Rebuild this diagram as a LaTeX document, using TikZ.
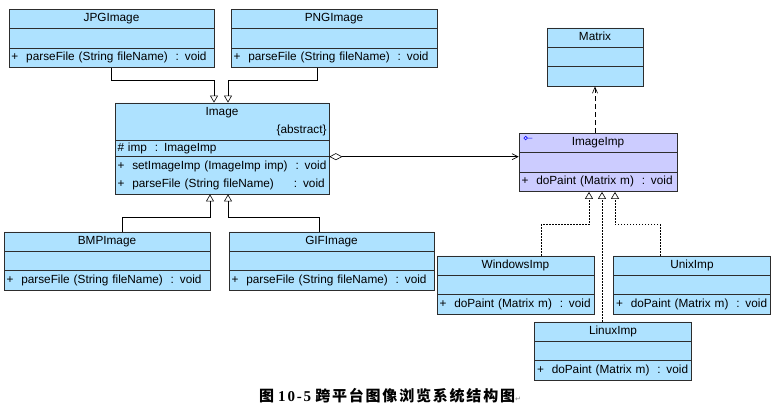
\documentclass[tikz,border=0pt]{standalone}
\usepackage{fontspec}
\setmainfont{Liberation Sans}
\newfontfamily\cjk{Noto Sans CJK SC}[LetterSpace=12]
\newfontfamily\capnum{Liberation Serif}[LetterSpace=12]
\newfontfamily\symfont{DejaVu Sans}
\usepackage{tikz}
\usetikzlibrary{positioning, shapes.multipart, arrows.meta}
\definecolor{classblue}{RGB}{174,226,255}
\definecolor{implilac}{RGB}{204,204,255}
\definecolor{umlline}{RGB}{45,45,45}
\tikzset{node distance=110pt, % Distance between node centres. Change if necessary.
umlclass/.style={ % Sets the properties for each class box
rectangle split, rectangle split parts=3,
draw=umlline, line width=0.7pt, fill=classblue,
text width=#1, align=left, inner xsep=2.5pt, inner ysep=2.33pt,
font=\fontsize{11.8}{14}\selectfont},
generalize/.style={ % Solid line, hollow triangle
draw, line width=0.6pt, -{Triangle[open,length=7pt,width=8pt]}},
realize/.style={ % Dotted line, hollow triangle
generalize, dash pattern=on 1.5pt off 1.5pt},
depend/.style={ % Dashed line, open arrow
draw, line width=0.6pt, dash pattern=on 5pt off 3pt,
-{Straight Barb[length=6pt,width=5pt]}},
aggregate/.style={ % Hollow diamond at the whole
draw, line width=0.6pt,
arrows={Diamond[open,length=13pt,width=7pt]-Straight Barb[length=6pt,width=6pt]}},
impicon/.style={blue, line width=0.6pt},
figcaption/.style={font=\bfseries\fontsize{15}{18}\selectfont, inner sep=0pt}}

\begin{document}
\begin{tikzpicture}[x=1pt, y=1pt]
    \useasboundingbox (0,0) rectangle (780,415);

    \node[umlclass=209pt] (img) at (222,266.5) {\hfill Image\hfill\strut\\[4pt]\hspace*{\fill}\{abstract\}\strut
        \nodepart{two}\#~imp~~: ImageImp
        \nodepart{three}\strut +~~setImageImp (ImageImp imp)~~: void\\[4pt]\strut +~~parseFile (String fileName)\hspace{20pt}: void};
    \node[umlclass=200pt, above of=img, xshift=-110.5pt] (jpg) {\hfill JPGImage\hfill\strut \nodepart{two}\strut \nodepart{three}\strut +~~parseFile (String fileName)~~: void};
    \node[umlclass=201pt, right of=jpg, xshift=112.5pt] (png) {\hfill PNGImage\hfill\strut \nodepart{two}\strut \nodepart{three}\strut +~~parseFile (String fileName)~~: void};
    \node[umlclass=201pt, below of=img, xshift=-115pt, yshift=-2.5pt] (bmp) {\hfill BMPImage\hfill\strut \nodepart{two}\strut \nodepart{three}\strut +~~parseFile (String fileName)~~: void};
    \node[umlclass=200pt, right of=bmp, xshift=114.5pt] (gif) {\hfill GIFImage\hfill\strut \nodepart{two}\strut \nodepart{three}\strut +~~parseFile (String fileName)~~: void};
    \node[umlclass=153pt, fill=implilac, right of=img, xshift=266pt, yshift=-14pt] (imp) {\hfill ImageImp\hfill\strut \nodepart{two}\strut \nodepart{three}\strut +~~doPaint (Matrix m)~~: void};
    \node[umlclass=91pt, above of=imp, xshift=-3pt, yshift=-4.5pt] (mat) {\hfill Matrix\hfill\strut \nodepart{two}\strut \nodepart{three}\strut};
    \node[umlclass=152pt, below of=imp, xshift=-82.5pt, yshift=-12.5pt] (win) {\hfill WindowsImp\hfill\strut \nodepart{two}\strut \nodepart{three}\strut +~~doPaint (Matrix m)~~: void};
    \node[umlclass=152pt, right of=win, xshift=66.5pt] (unix) {\hfill UnixImp\hfill\strut \nodepart{two}\strut \nodepart{three}\strut +~~doPaint (Matrix m)~~: void};
    \node[umlclass=152pt, below of=win, xshift=97.5pt, yshift=44pt] (linux) {\hfill LinuxImp\hfill\strut \nodepart{two}\strut \nodepart{three}\strut +~~doPaint (Matrix m)~~: void};
    \node[figcaption] (cap) at (390,19) {{\cjk 图} {\capnum 10-5} {\cjk 跨平台图像浏览系统结构图}{\symfont\mdseries\fontsize{7}{8}\selectfont\textcolor{gray}{↵}}};

    \draw[generalize] (jpg.south) -- ++(0,-12) -| ([xshift=-8pt]img.north);
    \draw[generalize] ([xshift=-17pt]png.south) -- ++(0,-12) -| ([xshift=6pt]img.north);
    \draw[generalize] ([xshift=15pt]bmp.north) -- ++(0,14) -| ([xshift=-12pt]img.south);
    \draw[generalize] ([xshift=-12.5pt]gif.north) -- ++(0,14) -| ([xshift=6pt]img.south);
    \draw[aggregate] (img.two split east) -- (img.two split east -| imp.west);
    \draw[depend] (mat.south |- imp.north) -- (mat.south);
    \draw[realize] ([xshift=25.5pt]win.north) -- ++(0,31) -| ([xshift=-9pt]imp.south);
    \draw[realize] ([xshift=-11pt]linux.north) -- ([xshift=-11pt]linux.north |- imp.south);
    \draw[realize] ([xshift=-32pt]unix.north) -- ++(0,31) -| ([xshift=17pt]imp.south);
    \draw[impicon] ([shift={(7pt,-5pt)}]imp.north west) circle (1.8pt) ++(1.8pt,0) -- ++(5pt,0);

\end{tikzpicture}
\end{document}
